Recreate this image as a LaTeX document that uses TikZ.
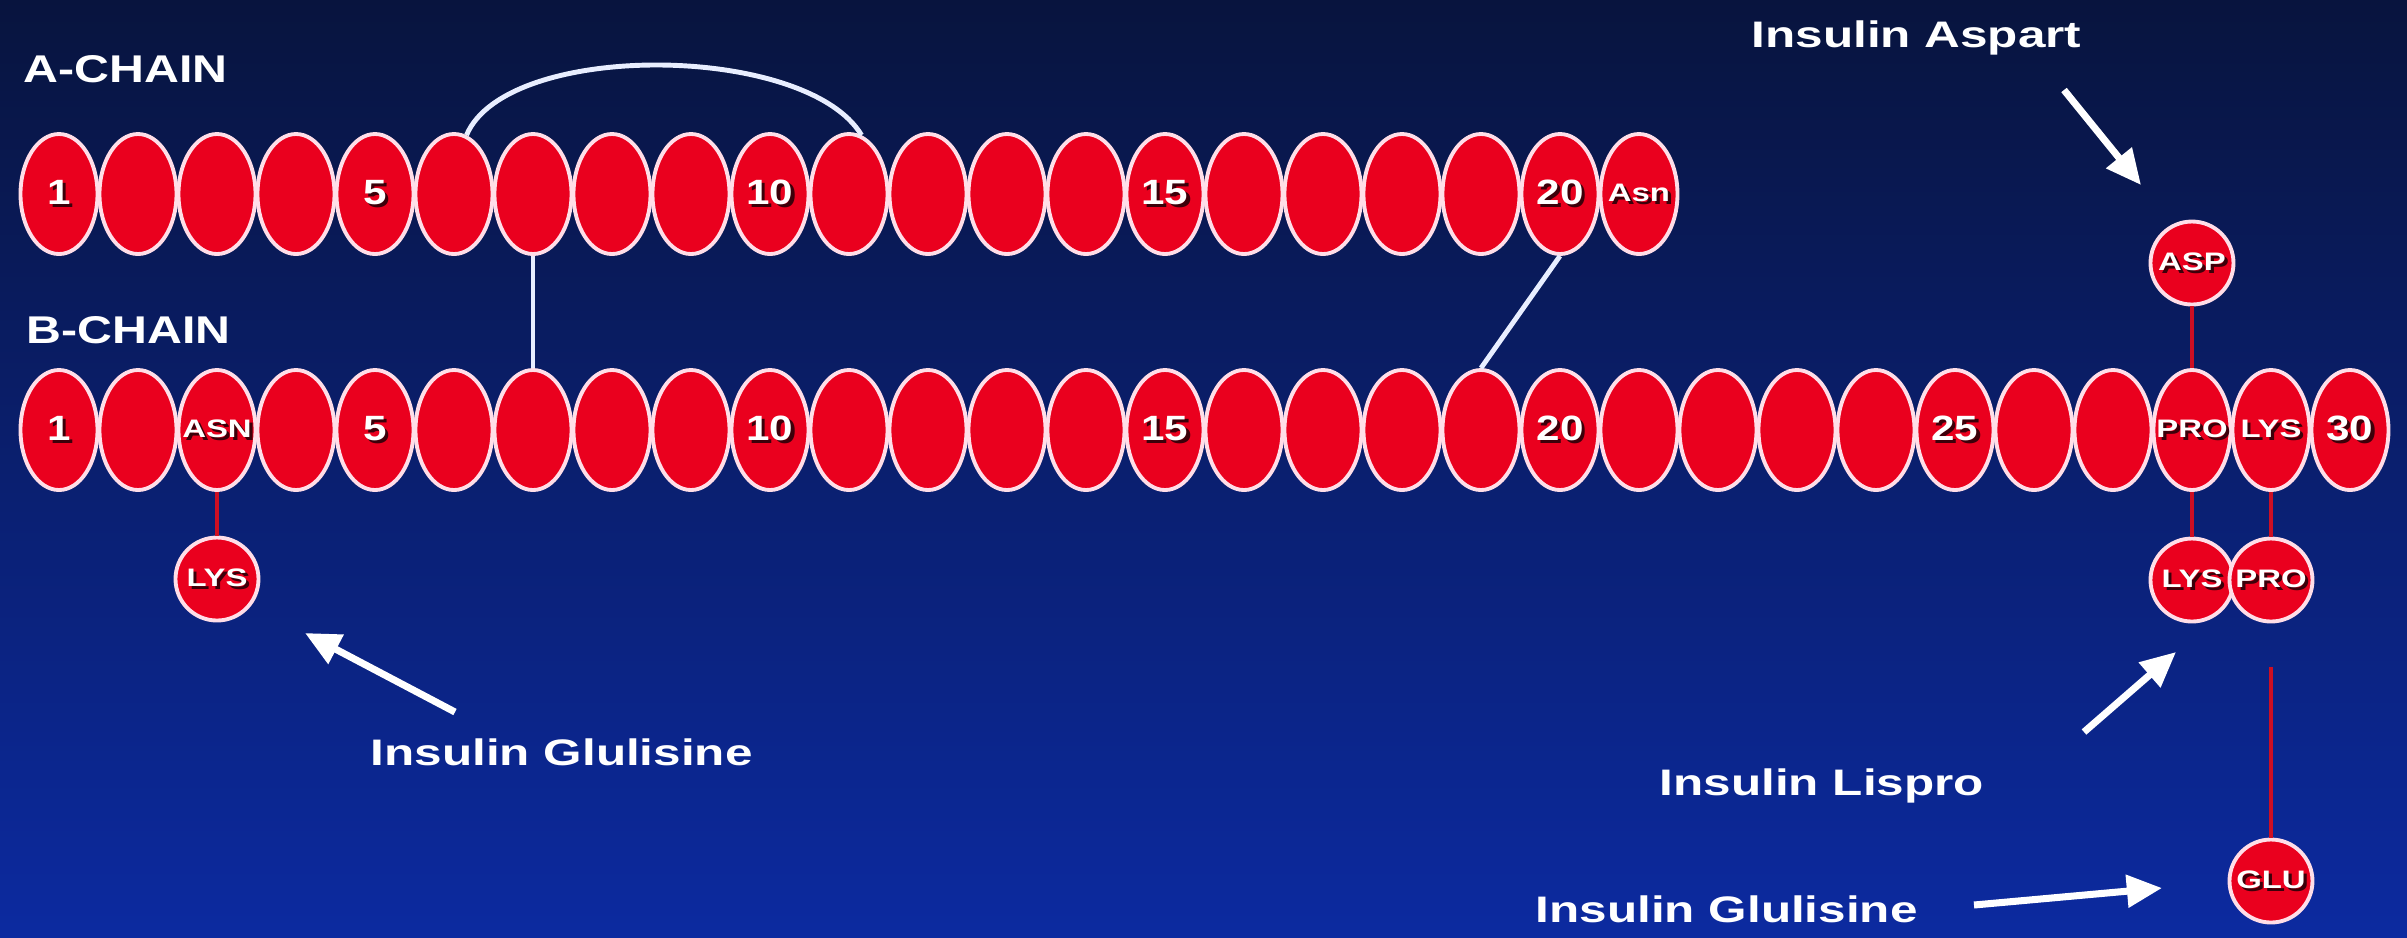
\documentclass[tikz,border=0pt]{standalone}
\usepackage{fontspec}
\setmainfont{Liberation Sans}
\usepackage{graphicx}
\usetikzlibrary{arrows.meta,calc,positioning,shapes.geometric}

\definecolor{slidetop}{RGB}{8,20,62}
\definecolor{slidebottom}{RGB}{12,42,160}
\definecolor{beadred}{RGB}{234,0,30}
\definecolor{beadrim}{RGB}{255,222,232}
\definecolor{linkred}{RGB}{205,15,35}
\definecolor{bridgewhite}{RGB}{232,238,255}
\definecolor{labelshade}{RGB}{60,0,10}

\newcommand{\wide}[2]{\scalebox{#1}[1]{#2}}
\newcommand{\shadowed}[1]{\makebox[0pt]{\raisebox{-0.9pt}{\kern1.8pt\textcolor{labelshade}{#1}}}\makebox[0pt]{#1}}
\newcommand{\beadtxt}[1]{{\fontsize{10}{10}\selectfont\bfseries\shadowed{\wide{1.2}{#1}}}}
\newcommand{\restxt}[1]{{\fontsize{7.2}{8}\selectfont\bfseries\shadowed{\wide{1.3}{#1}}}}

\tikzset{
  bead/.style={ellipse, draw=beadrim, line width=1.1pt, fill=beadred, text=white,
    minimum width=0.77cm, minimum height=1.2cm, inner sep=0pt},
  subst/.style={circle, draw=beadrim, line width=1.1pt, fill=beadred, text=white,
    minimum size=0.83cm, inner sep=0pt},
  sidelink/.style={draw=linkred, line width=1.4pt},
  ssbond/.style={draw=bridgewhite, line width=1.4pt},
  pointer/.style={draw=white, line width=2pt, -{Triangle[length=10pt,width=9pt]}},
  chainname/.style={text=white, font=\fontsize{11}{13}\selectfont\bfseries, inner sep=0pt, anchor=base west},
  drugname/.style={text=white, font=\fontsize{10.5}{12}\selectfont\bfseries, inner sep=0pt, anchor=base west}
}

\begin{document}
\begin{tikzpicture}
        \useasboundingbox (0,0) rectangle (24.07,-9.37);
        \shade[top color=slidetop, bottom color=slidebottom] (0,0) rectangle (24.07,-9.37);

        \node[chainname] (achain) at (0.23,-0.82) {\wide{1.25}{A-CHAIN}};
        \node[chainname] (bchain) at (0.26,-3.43) {\wide{1.25}{B-CHAIN}};

        \foreach \i/\lab in {1/\beadtxt{1},2/{},3/{},4/{},5/\beadtxt{5},6/{},7/{},8/{},9/{},10/\beadtxt{10},
                11/{},12/{},13/{},14/{},15/\beadtxt{15},16/{},17/{},18/{},19/{},20/\beadtxt{20},21/\restxt{Asn}}
            \node[bead] (a\i) at ({0.59+(\i-1)*0.79},-1.94) {\lab};

        \foreach \i/\lab in {1/\beadtxt{1},2/{},3/\restxt{ASN},4/{},5/\beadtxt{5},6/{},7/{},8/{},9/{},10/\beadtxt{10},
                11/{},12/{},13/{},14/{},15/\beadtxt{15},16/{},17/{},18/{},19/{},20/\beadtxt{20},
                21/{},22/{},23/{},24/{},25/\beadtxt{25},26/{},27/{},28/\restxt{PRO},29/\restxt{LYS},30/\beadtxt{30}}
            \node[bead] (b\i) at ({0.59+(\i-1)*0.79},-4.30) {\lab};

        \draw[ssbond] (a6.78) .. controls +(0.4,0.95) and +(-0.55,0.92) .. (a11.78);
        \draw[ssbond] (a7) -- (b7);
        \draw[ssbond] (a20.south) -- (b19.north);

        \node[subst] (asp) at ($(b28)+(0,1.67)$) {\restxt{ASP}};
        \node[subst] (lysg) at ($(b3)+(0,-1.49)$) {\restxt{LYS}};
        \node[subst] (lysl) at ($(b28)+(0,-1.50)$) {\restxt{LYS}};
        \node[subst] (prol) at ($(b29)+(0,-1.50)$) {\restxt{PRO}};
        \node[subst] (glu) at ($(b29)+(0,-4.51)$) {\restxt{GLU}};
        \coordinate (glustub) at ($(b29)+(0,-2.37)$);

        \draw[sidelink] (asp) -- (b28);
        \draw[sidelink] (b3) -- (lysg);
        \draw[sidelink] (b28) -- (lysl);
        \draw[sidelink] (b29) -- (prol);
        \draw[sidelink] (glustub) -- (glu);

        \node[drugname] (aspart) at (17.51,-0.47) {\wide{1.34}{Insulin Aspart}};
        \node[drugname] (glulisine1) at (3.70,-7.65) {\wide{1.34}{Insulin Glulisine}};
        \node[drugname] (lispro) at (16.59,-7.95) {\wide{1.34}{Insulin Lispro}};
        \node[drugname] (glulisine2) at (15.35,-9.22) {\wide{1.34}{Insulin Glulisine}};

        \coordinate (asptail) at (20.64,-0.90);
        \coordinate (asphead) at (21.41,-1.85);
        \coordinate (glutail1) at (4.55,-7.12);
        \coordinate (gluhead1) at (3.05,-6.33);
        \coordinate (lisprotail) at (20.84,-7.32);
        \coordinate (lisprohead) at (21.76,-6.52);
        \coordinate (glutail2) at (19.74,-9.05);
        \coordinate (gluhead2) at (21.62,-8.88);

        \draw[pointer] (asptail) -- (asphead);
        \draw[pointer] (glutail1) -- (gluhead1);
        \draw[pointer] (lisprotail) -- (lisprohead);
        \draw[pointer] (glutail2) -- (gluhead2);
    \end{tikzpicture}
\end{document}
